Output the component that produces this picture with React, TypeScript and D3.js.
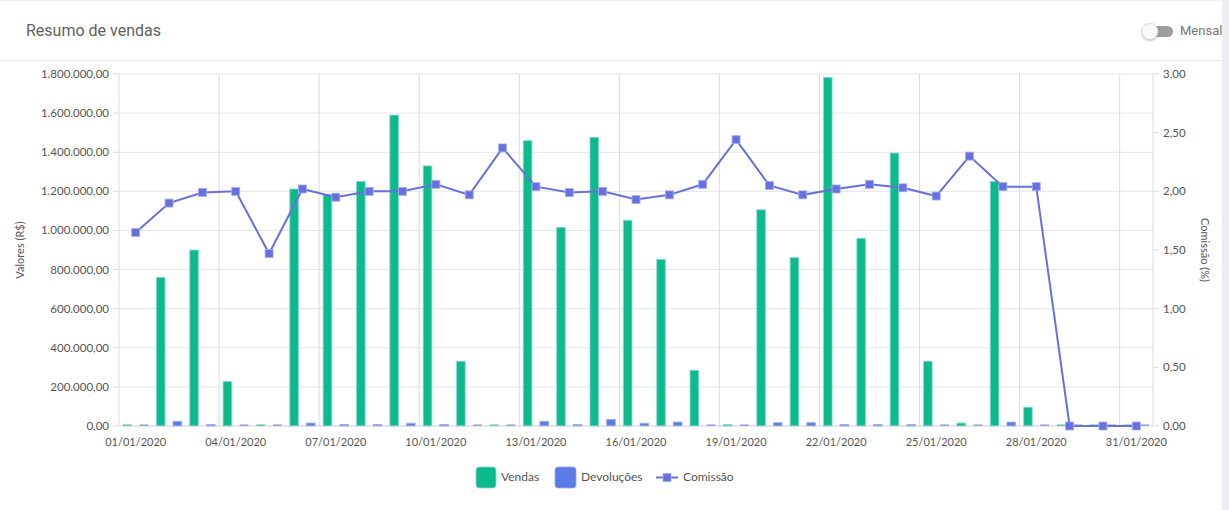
import React from 'react';
import * as d3 from 'd3';

const DATES = [
  '01/01/2020', '02/01/2020', '03/01/2020', '04/01/2020', '05/01/2020', '06/01/2020', '07/01/2020', '08/01/2020',
  '09/01/2020', '10/01/2020', '11/01/2020', '12/01/2020', '13/01/2020', '14/01/2020', '15/01/2020', '16/01/2020',
  '17/01/2020', '18/01/2020', '19/01/2020', '20/01/2020', '21/01/2020', '22/01/2020', '23/01/2020', '24/01/2020',
  '25/01/2020', '26/01/2020', '27/01/2020', '28/01/2020', '29/01/2020', '30/01/2020', '31/01/2020',
];

const VENDAS = [
  0, 760000, 900000, 228000, 0, 1212000, 1183000, 1251000, 1590000, 1330000, 331000, 0, 1459000, 1016000, 1476000,
  1052000, 852000, 285000, 7000, 1106000, 861000, 1783000, 960000, 1396000, 331000, 15000, 1251000, 96000, 0, 0, 0,
];

const DEVOLUCOES = [
  0, 24000, 6000, 0, 0, 15000, 7000, 4000, 14000, 3000, 0, 0, 24000, 2000, 34000,
  14000, 20000, 0, 0, 17000, 17000, 7000, 8000, 5000, 0, 0, 20000, 0, 0, 0, 0,
];

const COMISSAO = [
  1.65, 1.90, 1.99, 2.00, 1.47, 2.02, 1.95, 2.00, 2.00, 2.06, 1.97, 2.37, 2.04, 1.99, 2.00,
  1.93, 1.97, 2.06, 2.44, 2.05, 1.97, 2.02, 2.06, 2.03, 1.96, 2.30, 2.04, 2.04, 0, 0, 0,
];

const LEFT_TICKS = [0, 200000, 400000, 600000, 800000, 1000000, 1200000, 1400000, 1600000, 1800000];
const RIGHT_TICKS = [0, 0.5, 1, 1.5, 2, 2.5, 3];
const SERIES = ['Vendas', 'Devoluções'];

const W = 1229;
const H = 510;
const PLOT = { left: 119, right: 1153, top: 74, bottom: 426 };

const GREEN = '#0dba8a';
const BLUE = '#5b7ce6';
const LINE = '#6671de';
const FONT = 'Lato, "Noto Sans", sans-serif';
const TEXT = '#555';

const br = d3.formatLocale({ decimal: ',', thousands: '.', grouping: [3], currency: ['R$', ''] });
const fmt = br.format(',.2f');

const App = () => {
  const x = d3.scaleBand<string>().domain(DATES).range([PLOT.left, PLOT.right]).padding(0);
  const xSub = d3.scaleBand<string>().domain(SERIES).range([0, x.bandwidth()]).padding(0);
  const barW = xSub.bandwidth() * 0.52;
  const yL = d3.scaleLinear().domain([0, 1800000]).range([PLOT.bottom, PLOT.top]);
  const yR = d3.scaleLinear().domain([0, 3]).range([PLOT.bottom, PLOT.top]);

  const cx = (d: string) => x(d)! + x.bandwidth() / 2;
  const linePath = d3.line<number>()
    .x((_, i) => cx(DATES[i]))
    .y((d) => yR(d))(COMISSAO)!;

  // zero values still leave a thin dash on the baseline, like the original
  const barRect = (v: number, i: number, key: string, fill: string, stroke: string) => {
    const bx = x(DATES[i])! + xSub(key)! + (xSub.bandwidth() - barW) / 2;
    const top = yL(v);
    const h = Math.max(PLOT.bottom - top, 1.5);
    return (
      <rect key={key + i} x={bx} y={PLOT.bottom - h} width={barW} height={h}
        fill={fill} stroke={v > 0 ? stroke : 'none'} strokeWidth={1} opacity={v > 0 ? 1 : 0.8} />
    );
  };

  const vGrid = DATES.filter((_, i) => i % 3 === 0).map((d) => x(d)!);
  const xLabels = DATES.filter((_, i) => i % 3 === 0);

  return (
    <div style={{ position: 'absolute', left: 0, top: 0 }}>
      <svg width={W} height={H} style={{ display: 'block' }}>
        <rect x={0} y={0} width={W} height={H} fill="#eceef3" />
        <rect x={0} y={1} width={1222} height={H - 1} fill="#fff" />

        <text x={26} y={36} fontFamily="Roboto, sans-serif" fontSize={16} fill="#5f5f5f">Resumo de vendas</text>
        <line x1={0} x2={1222} y1={60.5} y2={60.5} stroke="#ebebeb" />

        {/* toggle */}
        <rect x={1144} y={26} width={29} height={11} rx={5.5} fill="#9e9e9e" />
        <circle cx={1150} cy={31.5} r={8} fill="#fafafa" stroke="#d6d6d6" strokeWidth={0.8}
          style={{ filter: 'drop-shadow(0px 1px 1px rgba(0,0,0,0.25))' }} />
        <text x={1180} y={35} fontFamily="Roboto, sans-serif" fontSize={13} fill="#757575">Mensal</text>

        {/* grid */}
        {LEFT_TICKS.map((t) => (
          <line key={'h' + t} x1={PLOT.left} x2={PLOT.right} y1={yL(t)} y2={yL(t)} stroke="#e5e5e5" />
        ))}
        {vGrid.map((gx) => (
          <line key={'v' + gx} x1={gx} x2={gx} y1={PLOT.top} y2={PLOT.bottom} stroke="#dcdcdc" />
        ))}
        <line x1={PLOT.right} x2={PLOT.right} y1={PLOT.top} y2={PLOT.bottom} stroke="#dcdcdc" />

        {/* left axis */}
        {LEFT_TICKS.map((t) => (
          <g key={'l' + t}>
            <line x1={PLOT.left - 6} x2={PLOT.left} y1={yL(t)} y2={yL(t)} stroke="#dcdcdc" />
            <text x={109} y={yL(t)} dy="0.35em" textAnchor="end" fontFamily={FONT} fontSize={11.5} fill={TEXT}>
              {fmt(t)}
            </text>
          </g>
        ))}
        <text transform={`translate(20,${(PLOT.top + PLOT.bottom) / 2}) rotate(-90)`} textAnchor="middle"
          dy="0.35em" fontFamily={FONT} fontSize={11} fill={TEXT}>Valores (R$)</text>

        {/* right axis */}
        {RIGHT_TICKS.map((t) => (
          <g key={'r' + t}>
            <line x1={PLOT.right} x2={PLOT.right + 6} y1={yR(t)} y2={yR(t)} stroke="#dcdcdc" />
            <text x={1163} y={yR(t)} dy="0.35em" textAnchor="start" fontFamily={FONT} fontSize={11.5} fill={TEXT}>
              {fmt(t)}
            </text>
          </g>
        ))}
        <text transform={`translate(1205,${(PLOT.top + PLOT.bottom) / 2}) rotate(90)`} textAnchor="middle"
          dy="0.35em" fontFamily={FONT} fontSize={11} fill={TEXT}>Comissão (%)</text>

        {/* x labels */}
        {xLabels.map((d) => (
          <text key={'x' + d} x={cx(d)} y={446} textAnchor="middle" fontFamily={FONT} fontSize={11} fill={TEXT}>{d}</text>
        ))}

        {/* bars */}
        {VENDAS.map((v, i) => barRect(v, i, 'Vendas', GREEN, 'rgba(140,215,230,0.8)'))}
        {DEVOLUCOES.map((v, i) => barRect(v, i, 'Devoluções', BLUE, 'rgba(150,175,240,0.8)'))}
        <line x1={PLOT.left} x2={PLOT.right} y1={PLOT.bottom} y2={PLOT.bottom} stroke="#cfcfcf" strokeWidth={0.6} />

        {/* commission line */}
        <path d={linePath} fill="none" stroke={LINE} strokeWidth={2} />
        {COMISSAO.map((c, i) => (
          <rect key={'m' + i} x={cx(DATES[i]) - 4} y={yR(c) - 4} width={8} height={8}
            fill={LINE} stroke="#a7adf0" strokeWidth={0.8} />
        ))}

        {/* legend */}
        <rect x={476} y={467} width={20} height={21} rx={3} fill={GREEN} stroke="rgba(140,215,230,0.8)" />
        <text x={501} y={481} fontFamily={FONT} fontSize={12} fill={TEXT}>Vendas</text>
        <rect x={555} y={467} width={21} height={21} rx={3} fill={BLUE} stroke="rgba(150,175,240,0.8)" />
        <text x={581} y={481} fontFamily={FONT} fontSize={12} fill={TEXT}>Devoluções</text>
        <line x1={656} x2={678} y1={477.5} y2={477.5} stroke={LINE} strokeWidth={2} />
        <rect x={663} y={473.5} width={8} height={8} fill={LINE} stroke="#a7adf0" strokeWidth={0.8} />
        <text x={683} y={481} fontFamily={FONT} fontSize={12} fill={TEXT}>Comissão</text>
      </svg>
    </div>
  );
};

export default App;
